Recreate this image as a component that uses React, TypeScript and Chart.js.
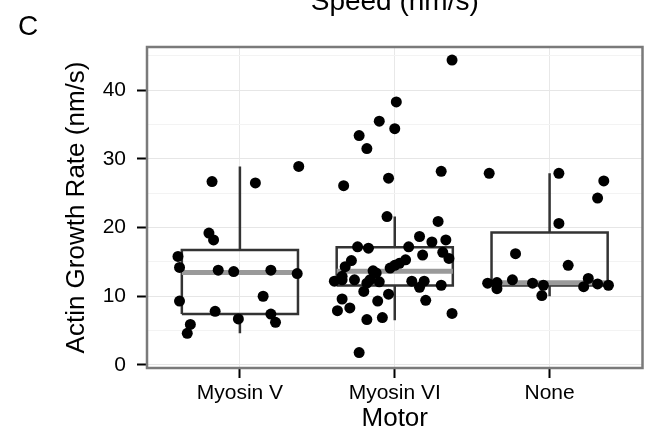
import React, { useEffect, useRef } from "react";
import { Chart, registerables } from "chart.js";

Chart.register(...registerables);

const FONT = "'Liberation Sans', Arial, Helvetica, sans-serif";

const panelLetter = "C";
const topTitle = "Speed (nm/s)";
const xTitle = "Motor";
const yTitle = "Actin Growth Rate (nm/s)";

const categories = ["Myosin V", "Myosin VI", "None"];
const yMajorTicks = [0, 10, 20, 30, 40];
const yMinorTicks = [5, 15, 25, 35, 45];

// Box statistics per category
const boxQ1 = [7.4, 11.55, 11.55];
const boxMedian = [13.45, 13.65, 11.95];
const boxQ3 = [16.75, 17.15, 19.3];
const whiskerLow = [4.6, 6.5, 10.0];
const whiskerHigh = [28.9, 21.6, 27.9];

// Jittered observations: values and horizontal jitter offsets
const myosinVValues = [26.7, 26.5, 28.9, 19.2, 18.2, 15.8, 14.2, 13.8, 13.6, 13.8, 13.3, 9.3, 10.0, 7.8, 6.7, 7.4, 6.2, 5.9, 4.6];
const myosinVJitter = [-0.18, 0.1, 0.38, -0.2, -0.17, -0.4, -0.39, -0.14, -0.04, 0.2, 0.37, -0.39, 0.15, -0.16, -0.01, 0.2, 0.23, -0.32, -0.34];

const myosinVIValues = [44.4, 38.3, 35.5, 34.4, 33.4, 31.5, 28.2, 27.2, 26.1, 21.6, 20.9, 18.7, 17.9, 18.2, 17.2, 17.0, 17.2, 16.0, 16.4, 15.5, 15.2, 14.3, 12.4, 15.3, 14.8, 14.5, 14.1, 13.7, 13.4, 12.9, 12.2, 12.4, 12.4, 12.1, 11.9, 12.2, 11.3, 12.2, 11.6, 10.7, 10.3, 9.6, 9.4, 9.3, 7.9, 8.3, 7.5, 6.6, 6.9, 1.8];
const myosinVIJitter = [0.37, 0.01, -0.1, 0.0, -0.23, -0.18, 0.3, -0.04, -0.33, -0.05, 0.28, 0.16, 0.24, 0.33, -0.24, -0.17, 0.09, 0.18, 0.31, 0.35, -0.28, -0.32, -0.34, 0.07, 0.03, 0.0, -0.03, -0.14, -0.12, -0.34, -0.39, -0.26, -0.16, -0.1, -0.18, 0.11, 0.16, 0.19, 0.3, -0.2, -0.04, -0.34, 0.2, -0.11, -0.37, -0.29, 0.37, -0.18, -0.08, -0.23];

const noneValues = [27.9, 27.9, 26.8, 24.3, 20.6, 16.2, 14.5, 11.9, 12.0, 11.1, 12.4, 11.9, 11.6, 10.1, 12.6, 11.4, 11.8, 11.6];
const noneJitter = [-0.39, 0.06, 0.35, 0.31, 0.06, -0.22, 0.12, -0.4, -0.34, -0.34, -0.24, -0.11, -0.04, -0.05, 0.25, 0.22, 0.31, 0.38];

const groupValues = [myosinVValues, myosinVIValues, noneValues];
const groupJitter = [myosinVJitter, myosinVIJitter, noneJitter];

const BOX_HALF = 0.375;

const panelTextPlugin = {
  id: "panelText",
  afterDraw(chart: any) {
    const { ctx, chartArea } = chart;
    ctx.save();
    // panel border
    ctx.strokeStyle = "#7a7a7a";
    ctx.lineWidth = 2.5;
    ctx.strokeRect(chartArea.left, chartArea.top, chartArea.right - chartArea.left, chartArea.bottom - chartArea.top);
    ctx.fillStyle = "#000";
    ctx.textBaseline = "alphabetic";
    ctx.textAlign = "left";
    ctx.font = `28px ${FONT}`;
    ctx.fillText(panelLetter, 18, 35);
    ctx.textAlign = "center";
    ctx.font = `28px ${FONT}`;
    ctx.fillText(topTitle, (chartArea.left + chartArea.right) / 2, 10);
    ctx.restore();
  },
};

export default function App() {
  const canvasRef = useRef<HTMLCanvasElement | null>(null);

  useEffect(() => {
    if (!canvasRef.current) return;

    const datasets: any[] = [];
    const lineColor = "#333333";

    categories.forEach((_, i) => {
      // box outline
      datasets.push({
        type: "scatter",
        data: [
          { x: i - BOX_HALF, y: boxQ1[i] },
          { x: i + BOX_HALF, y: boxQ1[i] },
          { x: i + BOX_HALF, y: boxQ3[i] },
          { x: i - BOX_HALF, y: boxQ3[i] },
          { x: i - BOX_HALF, y: boxQ1[i] },
        ],
        showLine: true,
        borderColor: lineColor,
        borderWidth: 2.5,
        borderJoinStyle: "miter",
        pointRadius: 0,
        fill: false,
        order: 3,
      });
      // whiskers
      datasets.push({
        type: "scatter",
        data: [
          { x: i, y: boxQ3[i] },
          { x: i, y: whiskerHigh[i] },
        ],
        showLine: true,
        borderColor: lineColor,
        borderWidth: 2.5,
        pointRadius: 0,
        order: 3,
      });
      datasets.push({
        type: "scatter",
        data: [
          { x: i, y: whiskerLow[i] },
          { x: i, y: boxQ1[i] },
        ],
        showLine: true,
        borderColor: lineColor,
        borderWidth: 2.5,
        pointRadius: 0,
        order: 3,
      });
      // median
      datasets.push({
        type: "scatter",
        data: [
          { x: i - BOX_HALF, y: boxMedian[i] },
          { x: i + BOX_HALF, y: boxMedian[i] },
        ],
        showLine: true,
        borderColor: "#9a9a9a",
        borderWidth: 5,
        pointRadius: 0,
        order: 2,
      });
    });

    categories.forEach((_, i) => {
      datasets.push({
        type: "scatter",
        data: groupValues[i].map((v, k) => ({ x: i + groupJitter[i][k], y: v })),
        backgroundColor: "#000000",
        borderColor: "#000000",
        borderWidth: 0,
        pointRadius: 5.5,
        order: 0,
      });
    });

    const chart = new Chart(canvasRef.current, {
      type: "scatter",
      data: { datasets },
      plugins: [panelTextPlugin],
      options: {
        animation: false,
        responsive: false,
        devicePixelRatio: 1,
        events: [],
        layout: { padding: { left: 0, top: 47, right: 5, bottom: 0 } },
        plugins: { legend: { display: false }, tooltip: { enabled: false } },
        scales: {
          x: {
            type: "linear",
            min: -0.6,
            max: 2.6,
            afterBuildTicks: (scale: any) => {
              scale.ticks = categories.map((_, i) => ({ value: i }));
            },
            afterFit: (scale: any) => {
              scale.height = 66;
            },
            ticks: {
              callback: (v: any) => categories[Math.round(Number(v))] ?? "",
              font: { family: FONT, size: 21 },
              color: "#000000",
              padding: 3,
              maxRotation: 0,
              autoSkip: false,
            },
            grid: {
              color: "#e8e8e8",
              lineWidth: 1,
              tickColor: "#000000",
              tickLength: 10,
              tickWidth: 2,
            },
            border: { display: false },
            title: {
              display: true,
              text: xTitle,
              font: { family: FONT, size: 26 },
              color: "#000000",
              padding: { top: 0, bottom: 0 },
            },
          },
          y: {
            type: "linear",
            min: -0.45,
            max: 46.3,
            afterBuildTicks: (scale: any) => {
              scale.ticks = [...yMajorTicks, ...yMinorTicks]
                .sort((a, b) => a - b)
                .map((v) => ({ value: v }));
            },
            afterFit: (scale: any) => {
              scale.width = 147;
            },
            ticks: {
              callback: (v: any) => (yMajorTicks.includes(Number(v)) ? String(v) : ""),
              font: { family: FONT, size: 21 },
              color: "#000000",
              padding: 11,
              autoSkip: false,
            },
            grid: {
              color: (c: any) => (c.tick && yMajorTicks.includes(c.tick.value) ? "#e6e6e6" : "#f3f3f3"),
              lineWidth: 1,
              tickColor: (c: any) => (c.tick && yMajorTicks.includes(c.tick.value) ? "#000000" : "rgba(0,0,0,0)"),
              tickLength: 10,
              tickWidth: 2,
            },
            border: { display: false },
            title: {
              display: true,
              text: yTitle,
              font: { family: FONT, size: 26 },
              color: "#000000",
              padding: { top: 61, bottom: 0 },
            },
          },
        },
      } as any,
    });

    return () => chart.destroy();
  }, []);

  return (
    <div style={{ position: "fixed", left: 0, top: 0, width: 648, height: 434, background: "#fff" }}>
      <canvas ref={canvasRef} width={648} height={434} style={{ display: "block" }} />
    </div>
  );
}
